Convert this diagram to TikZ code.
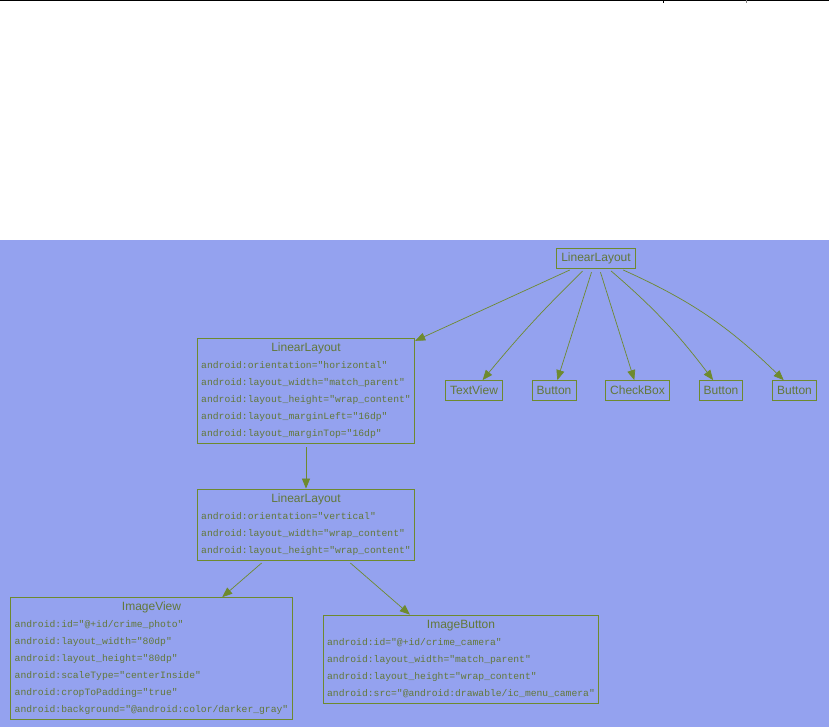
\documentclass[tikz,border=0pt]{standalone}
\usepackage{fontspec}
\setmainfont{Liberation Sans}
\setmonofont{Liberation Mono}
\usetikzlibrary{positioning,arrows.meta}
\definecolor{viewbg}{HTML}{94A2EF}
\definecolor{viewline}{HTML}{6E8A2E}
\definecolor{viewtext}{HTML}{62783A}
\newcommand{\viewtitle}[1]{\multicolumn{1}{@{}c@{}}{\rmfamily\fontsize{12}{17}\selectfont #1}}

\begin{document}
\begin{tikzpicture}[
  x=1pt, y=-1pt,
  node distance=29pt,
  viewbox/.style={draw=viewline, line width=0.8pt, text=viewtext,
                  font=\fontsize{12}{14}\selectfont, inner xsep=4.5pt,
                  inner ysep=0pt, minimum height=20pt},
  attrbox/.style={draw=viewline, line width=0.8pt, text=viewtext,
                  font=\ttfamily\fontsize{9.7}{17}\selectfont,
                  inner xsep=4pt, inner ysep=1.5pt},
  edge/.style={-{Triangle[length=10pt, width=8pt]}, draw=viewline,
               line width=0.7pt, shorten <=4pt}
]
\useasboundingbox (0,0) rectangle (829,727);
\fill[white] (0,0) rectangle (829,240);
\fill[viewbg] (0,240) rectangle (829,727);
% top rule of the page
\draw[line width=1.5pt] (0,0.75) -- (829,0.75);
\draw[line width=1pt] (663,0) -- (663,3);
\draw[line width=1pt, gray] (746,0) -- (746,3);

\node[viewbox] (root) at (596,258) {LinearLayout};

\node[attrbox] (outer) at (306,390.5) {\begin{tabular}{@{}l@{}}
\viewtitle{LinearLayout}\\
android:orientation="horizontal"\\
android:layout\_width="match\_parent"\\
android:layout\_height="wrap\_content"\\
android:layout\_marginLeft="16dp"\\
android:layout\_marginTop="16dp"
\end{tabular}};

\node[viewbox] (text) at (474,390.5) {TextView};
\node[viewbox, right=of text]  (btna)  {Button};
\node[viewbox, right=of btna]  (check) {CheckBox};
\node[viewbox, right=of check] (btnb)  {Button};
\node[viewbox, right=of btnb]  (btnc)  {Button};

\node[attrbox] (inner) at (306,524.5) {\begin{tabular}{@{}l@{}}
\viewtitle{LinearLayout}\\
android:orientation="vertical"\\
android:layout\_width="wrap\_content"\\
android:layout\_height="wrap\_content"
\end{tabular}};

\node[attrbox] (photo) at (151.5,658.5) {\begin{tabular}{@{}l@{}}
\viewtitle{ImageView}\\
android:id="@+id/crime\_photo"\\
android:layout\_width="80dp"\\
android:layout\_height="80dp"\\
android:scaleType="centerInside"\\
android:cropToPadding="true"\\
android:background="@android:color/darker\_gray"
\end{tabular}};

\node[attrbox] (camera) at (461,659) {\begin{tabular}{@{}l@{}}
\viewtitle{ImageButton}\\
android:id="@+id/crime\_camera"\\
android:layout\_width="match\_parent"\\
android:layout\_height="wrap\_content"\\
android:src="@android:drawable/ic\_menu\_camera"
\end{tabular}};

\draw[edge] (root) -- (outer);
\draw[edge] (root) to[bend right=3] (text);
\draw[edge] (root) -- (btna);
\draw[edge] (root) -- (check);
\draw[edge] (root) to[bend left=6] (btnb);
\draw[edge] (root) to[bend left=10] (btnc);
\draw[edge] (outer) -- (inner);
\draw[edge] (inner) -- (photo);
\draw[edge] (inner) -- (camera);
\end{tikzpicture}
\end{document}
